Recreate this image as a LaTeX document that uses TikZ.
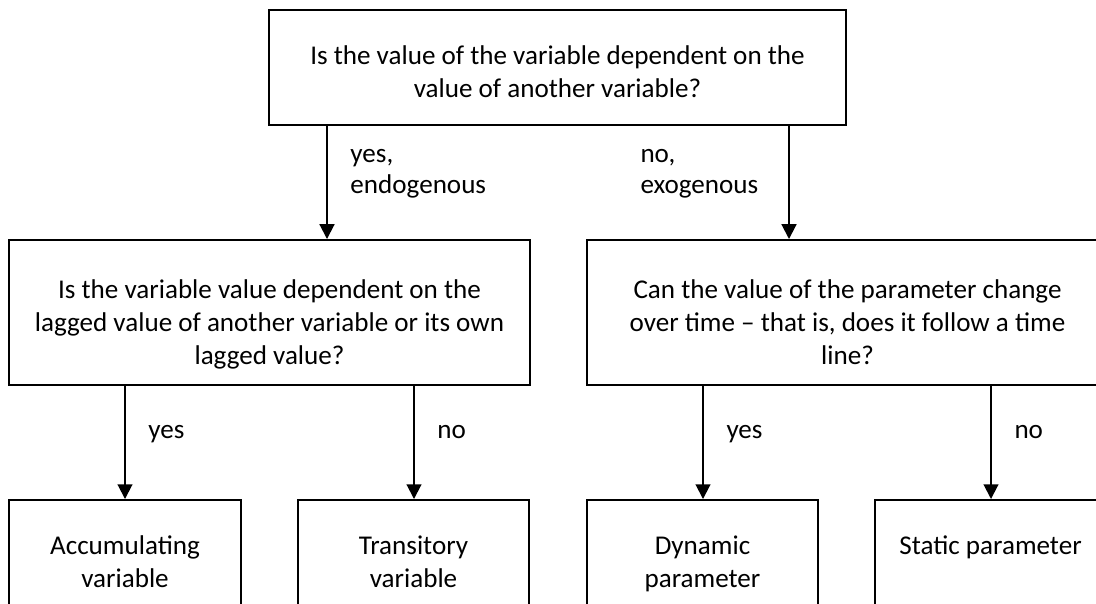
\documentclass[tikz,border=0pt]{standalone}
\usepackage{fontspec}
\setmainfont{Carlito}
\usetikzlibrary{arrows.meta,calc}
\def\pxu{0.406pt}
\newcommand\tightlines{\lineskiplimit -100pt\relax}
\begin{document}
\begin{tikzpicture}[x=0.406pt,y=-0.406pt,
  txtfont/.style={font=\fontsize{11}{13.4}\selectfont},
  box/.style={draw, line width=0.8pt, inner sep=0pt},
  boxtxt/.style={anchor=north, align=center, inner sep=0pt, txtfont},
  lbl/.style={anchor=base west, inner sep=0pt, txtfont},
  lbltwo/.style={anchor=north west, align=left, inner sep=0pt, font={\fontsize{11}{12.6}\selectfont\tightlines}},
  arr/.style={line width=0.8pt, -{Triangle[length=6pt,width=6pt]}}]
\useasboundingbox (0,0) rectangle (1096,603);
\clip (0,0) rectangle (1096,603);
% boxes
\node[box, minimum width={577*\pxu}, minimum height={115*\pxu}] (q1) at (557.5,67.5) {};
\node[box, minimum width={521*\pxu}, minimum height={145*\pxu}] (q2) at (269.5,312.5) {};
\node[box, minimum width={521*\pxu}, minimum height={145*\pxu}] (q3) at (847.5,312.5) {};
\node[box, minimum width={232*\pxu}, minimum height={124*\pxu}] (b1) at (125,562) {};
\node[box, minimum width={231*\pxu}, minimum height={124*\pxu}] (b2) at (413.5,562) {};
\node[box, minimum width={231*\pxu}, minimum height={124*\pxu}] (b3) at (702.5,562) {};
\node[box, minimum width={231*\pxu}, minimum height={124*\pxu}] (b4) at (990.5,562) {};
% box texts (first baseline 23.1px below the node's top)
\node[boxtxt] (t1) at (557.5,41) {\strut Is the value of the variable dependent on the\\\strut value of another variable?};
\node[boxtxt] (t2) at (269.5,275) {\strut Is the variable value dependent on the\\\strut lagged value of another variable or its own\\\strut lagged value?};
\node[boxtxt] (t3) at (847.5,275) {\strut Can the value of the parameter change\\\strut over time -- that is, does it follow a time\\\strut line?};
\node[boxtxt] (t4) at (125,531) {\strut Accumulating\\\strut variable};
\node[boxtxt] (t5) at (413.5,531) {\strut Transitory\\\strut variable};
\node[boxtxt] (t6) at (702.5,531) {\strut Dynamic\\\strut parameter};
\node[boxtxt] (t7) at (990.5,531) {\strut Static parameter};
% arrow x positions
\coordinate (xa) at (327,0);
\coordinate (xb) at (789,0);
\coordinate (xc) at (125,0);
\coordinate (xd) at (414,0);
\coordinate (xe) at (703,0);
\coordinate (xf) at (991,0);
\draw[arr] (q1.south -| xa) -- (q2.north -| xa);
\draw[arr] (q1.south -| xb) -- (q3.north -| xb);
\draw[arr] (q2.south -| xc) -- (b1.north -| xc);
\draw[arr] (q2.south -| xd) -- (b2.north -| xd);
\draw[arr] (q3.south -| xe) -- (b3.north -| xe);
\draw[arr] (q3.south -| xf) -- (b4.north -| xf);
% labels
\node[lbltwo] (l1) at (350,140) {\strut yes,\\\strut endogenous};
\node[lbltwo] (l2) at (640,140) {\strut no,\\\strut exogenous};
\node[lbl] (l3) at (148,438) {yes};
\node[lbl] (l4) at (437,438) {no};
\node[lbl] (l5) at (726,438) {yes};
\node[lbl] (l6) at (1014,438) {no};
\end{tikzpicture}
\end{document}
